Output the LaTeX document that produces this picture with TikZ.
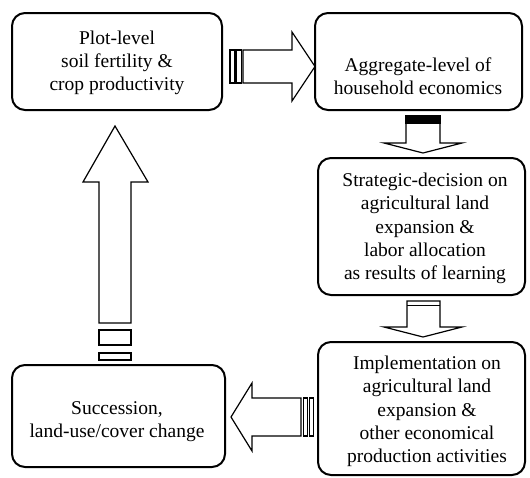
\documentclass[tikz,border=0pt]{standalone}
\usepackage{fontspec}
\setmainfont{Liberation Serif}
\begin{document}
\begin{tikzpicture}[x=1pt,y=-1pt,
  box/.style={draw,line width=2pt,rounded corners=13pt,inner sep=0pt},
  txt/.style={align=center,inner sep=0pt,font=\fontsize{19.5}{23.3}\selectfont},
  blk/.style={draw,line width=1.2pt,fill=white,line join=miter}]
\useasboundingbox (0,0) rectangle (530,477);
% boxes
\node[box,minimum width=210pt,minimum height=97pt] (b1) at (117,61.5) {};
\node[box,minimum width=207pt,minimum height=97pt] (b2) at (418.5,61.5) {};
\node[box,minimum width=207pt,minimum height=137pt] (b3) at (421.5,226.5) {};
\node[box,minimum width=207pt,minimum height=133pt] (b4) at (421.5,408.5) {};
\node[box,minimum width=213pt,minimum height=102pt] (b5) at (118.5,416) {};
% texts
\node[txt] (t1) at (117,63) {Plot-level\\soil fertility \&\\crop productivity};
\node[txt] (t2) at (418,76.5) {Aggregate-level of\\household economics};
\node[txt] (t3) at (425,228.5) {Strategic-decision on\\agricultural land\\expansion \&\\labor allocation\\as results of learning};
\node[txt] (t4) at (427,411.5) {Implementation on\\agricultural land\\expansion \&\\other economical\\production activities};
\node[txt] (t5) at (117,421.5) {Succession,\\land-use/cover change};
% arrow b1 -> b2
\draw[blk] (230,50) rectangle (235,83);
\draw[blk] (236.5,50) rectangle (241.5,83);
\draw[blk] (243,50) -- (292,50) -- (292,32) -- (315,66.5) -- (292,101) -- (292,83) -- (243,83) -- cycle;
% arrow b2 -> b3
\draw[blk] (406,123) -- (406,143) -- (384,143) -- (423,153) -- (462,143) -- (440,143) -- (440,123);
\filldraw[line width=1.2pt] (406,116) rectangle (440,123);
% arrow b3 -> b4
\draw[blk] (407,301) -- (407,327) -- (384,327) -- (423,337) -- (462,327) -- (440,327) -- (440,301) -- cycle;
\draw[line width=1.2pt] (407,305.5) -- (440,305.5);
% arrow b4 -> b5
\draw[blk] (303.3,398) rectangle (307.3,436);
\draw[blk] (309.3,398) rectangle (313.3,436);
\draw[blk] (301,398) -- (252,398) -- (252,383) -- (231,417) -- (252,451) -- (252,436) -- (301,436) -- cycle;
% arrow b5 -> b1
\draw[blk] (99,353) rectangle (131,360);
\draw[blk] (99,330) rectangle (131,345);
\draw[blk] (99,323) -- (99,182) -- (83,182) -- (115,126) -- (148,182) -- (131,182) -- (131,323) -- cycle;
\end{tikzpicture}
\end{document}
